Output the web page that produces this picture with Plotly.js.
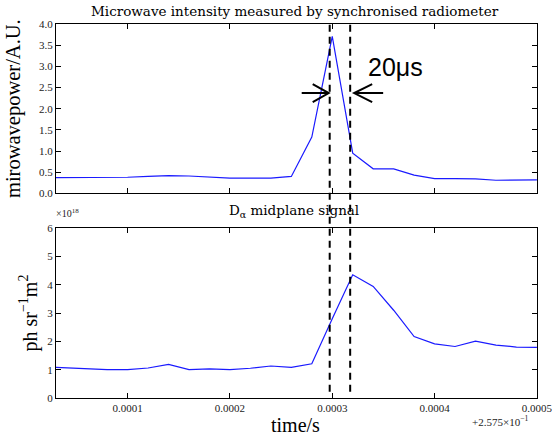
<!DOCTYPE html>
<html>
<head>
<meta charset="utf-8">
<script src="https://cdn.plot.ly/plotly-3.0.1.min.js"></script>
<style>html,body{margin:0;padding:0;background:#fff;}#chart{width:552px;height:437px;}</style>
</head>
<body>
<div id="chart"></div>
<script>
// time offsets (s) relative to 2.575e-1
var timeOffset = [0.00002,0.00004,0.00006,0.00008,0.00010,0.00012,0.00014,0.00016,0.00018,0.00020,0.00022,0.00024,0.00026,0.00028,0.00030,0.00032,0.00034,0.00036,0.00038,0.00040,0.00042,0.00044,0.00046,0.00048,0.00050];
// microwave power (A.U.)
var microwavePower = [0.37,0.37,0.37,0.38,0.38,0.40,0.42,0.41,0.39,0.36,0.36,0.36,0.40,1.33,3.71,0.95,0.58,0.58,0.43,0.35,0.35,0.34,0.31,0.31,0.32];
// D-alpha midplane signal (x1e18 ph sr^-1 m^2)
var dalphaSignal = [1.10,1.06,1.03,1.00,1.00,1.06,1.19,1.00,1.03,1.00,1.05,1.13,1.08,1.21,2.80,4.35,3.94,3.10,2.17,1.91,1.82,2.01,1.87,1.80,1.79];
// markers of the 20 us window
var windowEdges = [0.0002975, 0.0003175];
var xTickVals = [0.0001,0.0002,0.0003,0.0004,0.0005];
var xTickText = ["0.0001","0.0002","0.0003","0.0004","0.0005"];
var topTickVals = [0,0.5,1,1.5,2,2.5,3,3.5,4];
var topTickText = ["0.0","0.5","1.0","1.5","2.0","2.5","3.0","3.5","4.0"];
var botTickVals = [0,1,2,3,4,5,6];
var botTickText = ["0","1","2","3","4","5","6"];

var serif = "'Liberation Serif', 'Times New Roman', serif";
var wideSerif = "'DejaVu Serif', serif";
var H = 437, T = 24, B = 38.7, L = 56, R = 15.3;
var plotH = H - T - B, plotW = 552 - L - R;
function py(p){ return (H - B - p) / plotH; }
function px(p){ return (p - L) / plotW; }

var axisCommon = {
  showline: true, linecolor: '#000', linewidth: 1, mirror: 'ticks',
  ticks: 'inside', ticklen: 5, tickwidth: 1, tickcolor: '#000',
  showgrid: false, zeroline: false, ticklabeloverflow: 'allow',
  tickfont: {family: serif, size: 11, color: '#222'}
};
function ax(extra){ var o = {}; for (var k in axisCommon) o[k] = axisCommon[k]; for (var k2 in extra) o[k2] = extra[k2]; return o; }

var traces = [
  {x: timeOffset, y: microwavePower, xaxis: 'x', yaxis: 'y', mode: 'lines', line: {color: '#1a1aff', width: 1.2}, hoverinfo: 'none'},
  {x: timeOffset, y: dalphaSignal, xaxis: 'x2', yaxis: 'y2', mode: 'lines', line: {color: '#1a1aff', width: 1.2}, hoverinfo: 'none'}
];

var shapes = [];
windowEdges.forEach(function(xv){
  shapes.push({type: 'line', xref: 'x2', yref: 'paper', x0: xv, x1: xv, y0: py(392), y1: 1.0,
    line: {color: '#000', width: 2, dash: '7px,5px'}, layer: 'above'});
});
// arrows pointing at window edges
shapes.push({type: 'path', xref: 'x', yref: 'y', xsizemode: 'pixel', ysizemode: 'pixel',
  xanchor: windowEdges[0], yanchor: 2.37, path: 'M-28,0 L-1,0 M-17,9 L-1,0 L-17,-9',
  line: {color: '#000', width: 2}});
shapes.push({type: 'path', xref: 'x', yref: 'y', xsizemode: 'pixel', ysizemode: 'pixel',
  xanchor: windowEdges[1], yanchor: 2.37, path: 'M33,0 L4,0 M22,9 L4,0 L22,-9',
  line: {color: '#000', width: 2}});

var annotations = [
  {text: 'Microwave intensity measured by synchronised radiometer', xref: 'paper', yref: 'paper', x: px(295), xanchor: 'center', y: py(21), yanchor: 'bottom', showarrow: false, font: {family: wideSerif, size: 13.5, color: '#000'}},
  {text: 'D<sub>α</sub> midplane signal', xref: 'paper', yref: 'paper', x: px(294), xanchor: 'center', y: py(222), yanchor: 'bottom', showarrow: false, font: {family: wideSerif, size: 13.5, color: '#000'}},
  {text: '20μs', xref: 'paper', yref: 'paper', x: px(395), xanchor: 'center', y: py(67.5), yanchor: 'middle', showarrow: false, font: {family: "'Liberation Sans', Arial, sans-serif", size: 25, color: '#000'}},
  {text: 'time/s', xref: 'paper', yref: 'paper', x: px(295), xanchor: 'center', y: py(437), yanchor: 'bottom', showarrow: false, borderpad: 0, font: {family: serif, size: 20, color: '#000'}},
  {text: '+2.575×10<sup>−1</sup>', xref: 'paper', yref: 'paper', x: px(500), xanchor: 'center', y: py(421), yanchor: 'middle', showarrow: false, font: {family: serif, size: 11, color: '#222'}},
  {text: '×10<sup>18</sup>', xref: 'paper', yref: 'paper', x: px(54), y: py(213), xanchor: 'left', yanchor: 'middle', showarrow: false, font: {family: serif, size: 10, color: '#222'}}
];

var layout = {
  width: 552, height: 437,
  margin: {l: L, r: R, t: T, b: B},
  paper_bgcolor: '#fff', plot_bgcolor: '#fff',
  showlegend: false,
  xaxis: ax({domain: [0,1], anchor: 'y', range: [0.00003, 0.0005001], tickvals: xTickVals, ticktext: xTickText, showticklabels: false, matches: 'x2'}),
  yaxis: ax({domain: [py(193.5), 1], anchor: 'x', range: [0, 4.0001], tickvals: topTickVals, ticktext: topTickText,
    title: {text: 'mirowavepower/A.U.', font: {family: serif, size: 20.5, color: '#000'}, standoff: 12}}),
  xaxis2: ax({domain: [0,1], anchor: 'y2', range: [0.00003, 0.0005001], tickvals: xTickVals, ticktext: xTickText}),
  yaxis2: ax({domain: [0, py(228.3)], anchor: 'x2', range: [0, 6.0001], tickvals: botTickVals, ticktext: botTickText,
    title: {text: 'ph sr<sup>−1</sup>m<sup>2</sup>', font: {family: serif, size: 20, color: '#000'}, standoff: 4}}),
  shapes: shapes,
  annotations: annotations
};

Plotly.newPlot('chart', traces, layout, {displayModeBar: false, staticPlot: true});
</script>
</body>
</html>
